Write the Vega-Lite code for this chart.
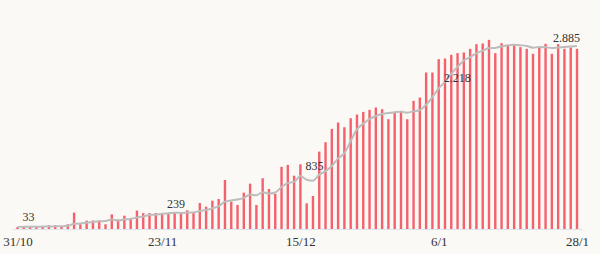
{
  "$schema": "https://vega.github.io/schema/vega-lite/v6.json",
  "width": 600,
  "height": 229,
  "autosize": "none",
  "padding": {"left": 0, "top": 0, "right": 0, "bottom": 25},
  "background": "#fbf9f5",
  "config": {"view": {"stroke": null}, "font": "Liberation Serif"},
  "data": {"values": [
    {"date": "2020-10-31", "value": 28, "avg": 33, "label": "33"},
    {"date": "2020-11-01", "value": 32, "avg": 34},
    {"date": "2020-11-02", "value": 32, "avg": 35},
    {"date": "2020-11-03", "value": 42, "avg": 36},
    {"date": "2020-11-04", "value": 42, "avg": 38},
    {"date": "2020-11-05", "value": 58, "avg": 40},
    {"date": "2020-11-06", "value": 58, "avg": 42},
    {"date": "2020-11-07", "value": 45, "avg": 44},
    {"date": "2020-11-08", "value": 74, "avg": 50},
    {"date": "2020-11-09", "value": 258, "avg": 82},
    {"date": "2020-11-10", "value": 74, "avg": 87},
    {"date": "2020-11-11", "value": 131, "avg": 100},
    {"date": "2020-11-12", "value": 135, "avg": 111},
    {"date": "2020-11-13", "value": 135, "avg": 122},
    {"date": "2020-11-14", "value": 74, "avg": 126},
    {"date": "2020-11-15", "value": 231, "avg": 148},
    {"date": "2020-11-16", "value": 150, "avg": 133},
    {"date": "2020-11-17", "value": 210, "avg": 152},
    {"date": "2020-11-18", "value": 175, "avg": 159},
    {"date": "2020-11-19", "value": 290, "avg": 181},
    {"date": "2020-11-20", "value": 250, "avg": 197},
    {"date": "2020-11-21", "value": 250, "avg": 222},
    {"date": "2020-11-22", "value": 250, "avg": 225},
    {"date": "2020-11-23", "value": 250, "avg": 239, "label": "239"},
    {"date": "2020-11-24", "value": 255, "avg": 246},
    {"date": "2020-11-25", "value": 255, "avg": 257},
    {"date": "2020-11-26", "value": 255, "avg": 252},
    {"date": "2020-11-27", "value": 295, "avg": 259},
    {"date": "2020-11-28", "value": 270, "avg": 261},
    {"date": "2020-11-29", "value": 410, "avg": 284},
    {"date": "2020-11-30", "value": 352, "avg": 299},
    {"date": "2020-12-01", "value": 447, "avg": 326},
    {"date": "2020-12-02", "value": 473, "avg": 357},
    {"date": "2020-12-03", "value": 773, "avg": 431},
    {"date": "2020-12-04", "value": 431, "avg": 451},
    {"date": "2020-12-05", "value": 379, "avg": 466},
    {"date": "2020-12-06", "value": 573, "avg": 490},
    {"date": "2020-12-07", "value": 715, "avg": 542},
    {"date": "2020-12-08", "value": 379, "avg": 532},
    {"date": "2020-12-09", "value": 800, "avg": 579},
    {"date": "2020-12-10", "value": 630, "avg": 558},
    {"date": "2020-12-11", "value": 555, "avg": 576},
    {"date": "2020-12-12", "value": 980, "avg": 662},
    {"date": "2020-12-13", "value": 1010, "avg": 724},
    {"date": "2020-12-14", "value": 840, "avg": 742},
    {"date": "2020-12-15", "value": 1020, "avg": 835, "label": "835"},
    {"date": "2020-12-16", "value": 405, "avg": 777},
    {"date": "2020-12-17", "value": 521, "avg": 762},
    {"date": "2020-12-18", "value": 1220, "avg": 857},
    {"date": "2020-12-19", "value": 1368, "avg": 912},
    {"date": "2020-12-20", "value": 1578, "avg": 993},
    {"date": "2020-12-21", "value": 1678, "avg": 1113},
    {"date": "2020-12-22", "value": 1604, "avg": 1196},
    {"date": "2020-12-23", "value": 1746, "avg": 1388},
    {"date": "2020-12-24", "value": 1804, "avg": 1571},
    {"date": "2020-12-25", "value": 1846, "avg": 1661},
    {"date": "2020-12-26", "value": 1878, "avg": 1733},
    {"date": "2020-12-27", "value": 1915, "avg": 1782},
    {"date": "2020-12-28", "value": 1888, "avg": 1812},
    {"date": "2020-12-29", "value": 1731, "avg": 1830},
    {"date": "2020-12-30", "value": 1830, "avg": 1842},
    {"date": "2020-12-31", "value": 1862, "avg": 1850},
    {"date": "2021-01-01", "value": 1731, "avg": 1834},
    {"date": "2021-01-02", "value": 2020, "avg": 1854},
    {"date": "2021-01-03", "value": 2072, "avg": 1876},
    {"date": "2021-01-04", "value": 2467, "avg": 1959},
    {"date": "2021-01-05", "value": 2467, "avg": 2080},
    {"date": "2021-01-06", "value": 2677, "avg": 2218, "label": "2.218"},
    {"date": "2021-01-07", "value": 2688, "avg": 2320},
    {"date": "2021-01-08", "value": 2746, "avg": 2448},
    {"date": "2021-01-09", "value": 2772, "avg": 2556},
    {"date": "2021-01-10", "value": 2783, "avg": 2657},
    {"date": "2021-01-11", "value": 2840, "avg": 2710},
    {"date": "2021-01-12", "value": 2914, "avg": 2774},
    {"date": "2021-01-13", "value": 2925, "avg": 2810},
    {"date": "2021-01-14", "value": 2982, "avg": 2852},
    {"date": "2021-01-15", "value": 2772, "avg": 2855},
    {"date": "2021-01-16", "value": 2930, "avg": 2878},
    {"date": "2021-01-17", "value": 2904, "avg": 2895},
    {"date": "2021-01-18", "value": 2893, "avg": 2903},
    {"date": "2021-01-19", "value": 2867, "avg": 2896},
    {"date": "2021-01-20", "value": 2840, "avg": 2884},
    {"date": "2021-01-21", "value": 2762, "avg": 2858},
    {"date": "2021-01-22", "value": 2877, "avg": 2868},
    {"date": "2021-01-23", "value": 2919, "avg": 2866},
    {"date": "2021-01-24", "value": 2762, "avg": 2852},
    {"date": "2021-01-25", "value": 2914, "avg": 2860},
    {"date": "2021-01-26", "value": 2840, "avg": 2868},
    {"date": "2021-01-27", "value": 2861, "avg": 2876},
    {"date": "2021-01-28", "value": 2840, "avg": 2885, "label": "2.885"}
  ]},
  "encoding": {
    "x": {
      "field": "date",
      "type": "temporal",
      "scale": {
        "type": "utc",
        "domain": [
          {"year": 2020, "month": 10, "date": 31, "utc": true},
          {"year": 2021, "month": 1, "date": 28, "utc": true}
        ],
        "range": [12.5, 582]
      },
      "axis": {
        "title": null,
        "values": [
          {"year": 2020, "month": 10, "date": 31, "utc": true},
          {"year": 2020, "month": 11, "date": 23, "utc": true},
          {"year": 2020, "month": 12, "date": 15, "utc": true},
          {"year": 2021, "month": 1, "date": 6, "utc": true},
          {"year": 2021, "month": 1, "date": 28, "utc": true}
        ],
        "format": "%-d/%-m",
        "labelFont": "Liberation Serif",
        "labelFontSize": 13,
        "labelColor": "#333333",
        "labelPadding": 6,
        "labelFlush": false,
        "labelOverlap": false,
        "ticks": false,
        "grid": false,
        "domainColor": "#dde3ea",
        "domainWidth": 1
      }
    }
  },
  "layer": [
    {
      "mark": {"type": "bar", "width": 2.4, "color": "#f4606b"},
      "encoding": {
        "y": {"field": "value", "type": "quantitative", "scale": {"domain": [0, 3610], "nice": false}, "axis": null}
      }
    },
    {
      "mark": {"type": "line", "color": "#bdbdbd", "strokeWidth": 2, "interpolate": "monotone"},
      "encoding": {
        "y": {"field": "avg", "type": "quantitative", "scale": {"domain": [0, 3610], "nice": false}, "axis": null}
      }
    },
    {
      "transform": [{"filter": "datum.label && datum.label != '2.885'"}],
      "mark": {"type": "text", "align": "left", "baseline": "alphabetic", "dx": 5, "dy": -6, "fontSize": 12, "font": "Liberation Serif", "color": "#333333"},
      "encoding": {
        "y": {"field": "avg", "type": "quantitative", "scale": {"domain": [0, 3610], "nice": false}, "axis": null},
        "text": {"field": "label"}
      }
    },
    {
      "transform": [{"filter": "datum.label == '2.885'"}],
      "mark": {"type": "text", "align": "right", "baseline": "alphabetic", "dx": 3, "dy": -4, "fontSize": 12, "font": "Liberation Serif", "color": "#333333"},
      "encoding": {
        "y": {"field": "avg", "type": "quantitative", "scale": {"domain": [0, 3610], "nice": false}, "axis": null},
        "text": {"field": "label"}
      }
    }
  ]
}
